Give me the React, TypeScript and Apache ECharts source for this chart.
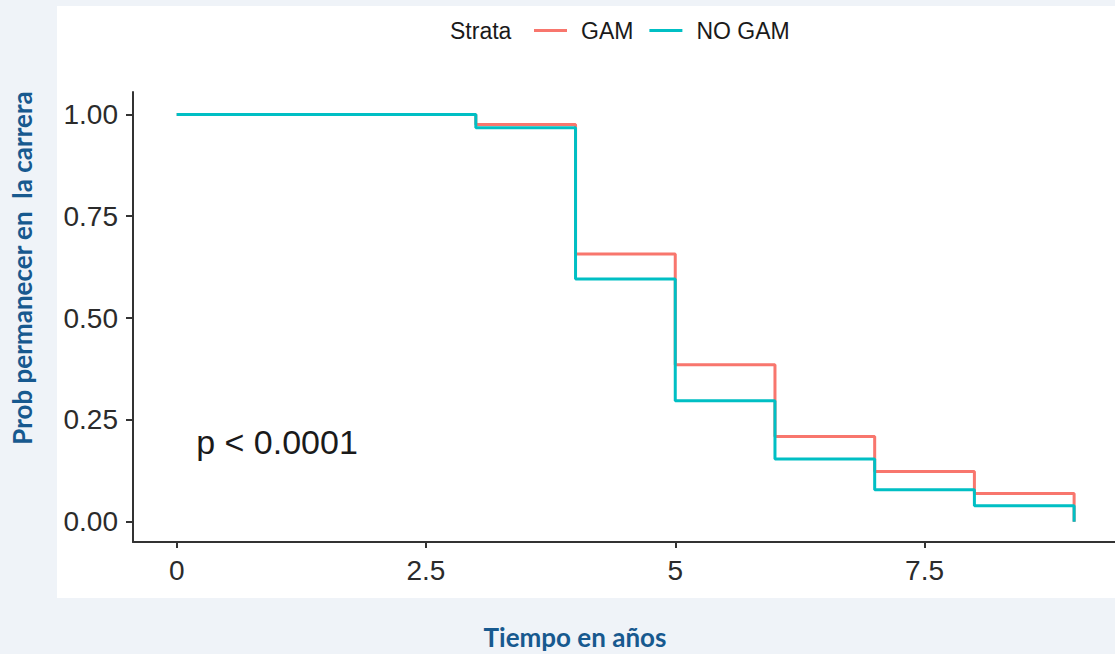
import React, { useEffect, useRef } from "react";
import * as echarts from "echarts";

const xTicks = [0, 2.5, 5, 7.5];
const yTicks = [0, 0.25, 0.5, 0.75, 1];
const timesGAM = [0, 3, 4, 5, 6, 7, 8, 9];
const survGAM = [1, 0.975, 0.657, 0.385, 0.209, 0.123, 0.069, 0];
const timesNoGAM = [0, 3, 4, 5, 6, 7, 8, 9];
const survNoGAM = [1, 0.967, 0.596, 0.297, 0.154, 0.078, 0.039, 0];
const seriesNames = ["GAM", "NO GAM"];
const seriesColors = ["#F8766D", "#00BFC4"];
const legendTitle = "Strata";
const pValueText = "p < 0.0001";
const xTitle = "Tiempo en años";
const yTitle = "Prob permanecer en  la carrera";

export default function App() {
  const ref = useRef<HTMLDivElement>(null);
  useEffect(() => {
    if (!ref.current) return;
    const chart = echarts.init(ref.current, null, { renderer: "svg" });
    const font = "'Liberation Sans', Arial, sans-serif";
    const titleColor = "#17598f";
    const mk = (t: number[], s: number[]) => t.map((x, i) => [x, s[i]]);
    chart.setOption({
      animation: false,
      backgroundColor: "#eff3f8",
      textStyle: { fontFamily: font },
      graphic: [
        {
          type: "rect",
          z: -10,
          silent: true,
          shape: { x: 57, y: 6, width: 1058, height: 592 },
          style: { fill: "#ffffff" },
        },
        {
          type: "text",
          x: 277,
          y: 442,
          style: {
            text: pValueText,
            fontSize: 34,
            fontFamily: font,
            fill: "#1a1a1a",
            align: "center",
            verticalAlign: "middle",
          },
        },
        {
          type: "text",
          x: 575,
          y: 637,
          style: {
            text: xTitle,
            fontSize: 26,
            fontWeight: "bold",
            fontFamily: "Lato, 'Open Sans', sans-serif",
            fill: titleColor,
            align: "center",
            verticalAlign: "middle",
          },
        },
        {
          type: "text",
          x: 22,
          y: 268,
          rotation: Math.PI / 2,
          style: {
            text: yTitle,
            fontSize: 26,
            fontWeight: "bold",
            fontFamily: "Lato, 'Open Sans', sans-serif",
            fill: titleColor,
            align: "center",
            verticalAlign: "middle",
          },
        },
        {
          type: "text",
          x: 450,
          y: 31,
          style: {
            text: legendTitle,
            fontSize: 23,
            fontFamily: font,
            fill: "#1a1a1a",
            align: "left",
            verticalAlign: "middle",
          },
        },
      ],
      legend: {
        left: 529,
        top: 14,
        data: seriesNames,
        icon: "rect",
        itemWidth: 33,
        itemHeight: 3,
        itemGap: 16,
        textStyle: {
          fontSize: 23,
          fontFamily: font,
          color: "#1a1a1a",
          padding: [0, 0, 0, 9],
        },
      },
      grid: { left: 133, right: 0, top: 92, bottom: 112, containLabel: false },
      xAxis: {
        type: "value",
        min: -0.438,
        max: 9.41,
        splitLine: { show: false },
        axisLine: { onZero: false, lineStyle: { color: "#333333", width: 2 } },
        axisTick: {
          customValues: xTicks,
          length: 6,
          lineStyle: { color: "#333333", width: 2 },
        },
        axisLabel: {
          customValues: xTicks,
          fontSize: 28,
          color: "#2b2b2b",
          fontFamily: font,
          margin: 14,
          formatter: (v: number) => String(v),
        },
      },
      yAxis: {
        type: "value",
        min: -0.05,
        max: 1.055,
        splitLine: { show: false },
        axisLine: { show: true, onZero: false, lineStyle: { color: "#333333", width: 2 } },
        axisTick: {
          show: true,
          customValues: yTicks,
          length: 7,
          lineStyle: { color: "#333333", width: 2 },
        },
        axisLabel: {
          customValues: yTicks,
          fontSize: 28,
          color: "#2b2b2b",
          fontFamily: font,
          margin: 15,
          formatter: (v: number) => v.toFixed(2),
        },
      },
      series: [
        {
          name: seriesNames[0],
          type: "line",
          step: "end",
          data: mk(timesGAM, survGAM),
          showSymbol: false,
          symbol: "none",
          color: seriesColors[0],
          lineStyle: { width: 3, color: seriesColors[0] },
        },
        {
          name: seriesNames[1],
          type: "line",
          step: "end",
          data: mk(timesNoGAM, survNoGAM),
          showSymbol: false,
          symbol: "none",
          color: seriesColors[1],
          lineStyle: { width: 3, color: seriesColors[1] },
        },
      ],
    });
    return () => chart.dispose();
  }, []);
  return (
    <div
      ref={ref}
      style={{ position: "absolute", left: 0, top: 0, width: 1115, height: 654 }}
    />
  );
}
